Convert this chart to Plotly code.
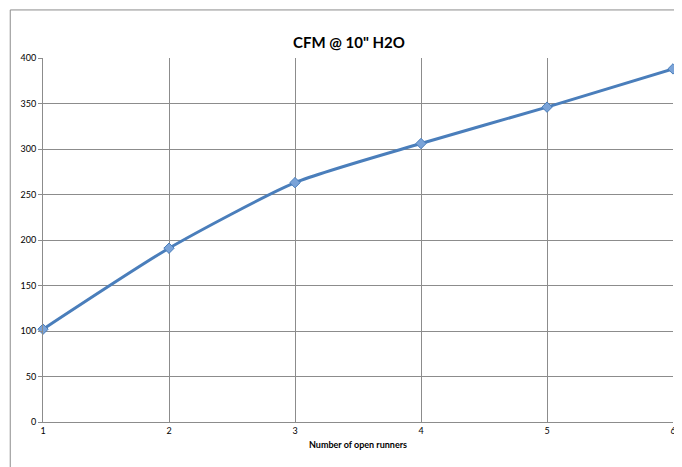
import plotly.graph_objects as go

runners = [1, 2, 3, 4, 5, 6]
cfm = [102, 191, 263, 306, 346, 388]

fig = go.Figure()
fig.add_trace(go.Scatter(
    x=runners, y=cfm,
    mode='lines+markers',
    line=dict(color='#4a7ebb', width=3, shape='spline', smoothing=0.6),
    marker=dict(symbol='diamond', size=8, color='#7aa3d8',
                line=dict(color='#4a7ebb', width=1)),
    showlegend=False,
    cliponaxis=False
))

fig.update_layout(
    width=682, height=467,
    margin=dict(l=35, r=17, t=50, b=53, autoexpand=False),
    paper_bgcolor='white', plot_bgcolor='white',
    font=dict(family='Lato, Arial', size=9, color='black'),
    title=dict(text='<b>CFM @ 10" H2O</b>', x=0.5, xanchor='center',
               y=0.925, yanchor='middle', font=dict(size=15)),
    xaxis=dict(range=[1, 6], dtick=1, showgrid=True, gridcolor='#8c8c8c',
               gridwidth=1, showline=True, linecolor='#8c8c8c', ticks='',
               zeroline=False, title=dict(text='<b>Number of open runners</b>',
                                          font=dict(size=9), standoff=6)),
    yaxis=dict(range=[0, 400], dtick=50, showgrid=True, gridcolor='#8c8c8c',
               gridwidth=1, showline=True, linecolor='#8c8c8c', ticks='outside',
               ticklen=4, tickcolor='#8c8c8c', zeroline=False),
    shapes=[dict(type='rect', xref='paper', yref='paper', x0=-0.052, x1=1.022,
                 y0=-0.137, y1=1.132, line=dict(color='#8c8c8c', width=1))]
)

fig.write_html("out.html")
